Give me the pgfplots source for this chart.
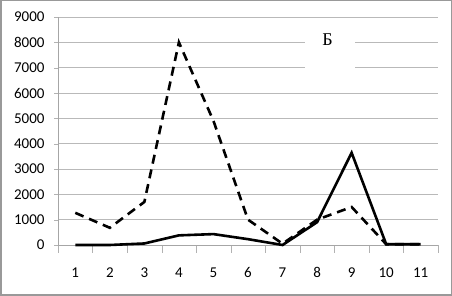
\documentclass[border=0pt]{standalone}
\usepackage{fontspec}
\setmainfont{Carlito}
\newfontfamily\serifb{Liberation Serif}
\usepackage{pgfplots}
\pgfplotsset{compat=1.18}
\begin{document}
\begin{tikzpicture}
\draw[gray!80, line width=1.5pt] (0.75pt,0.75pt) rectangle (451.25pt,295.25pt);
\begin{axis}[
  at={(58pt,51pt)}, anchor=south west,
  scale only axis, width=380pt, height=228pt,
  xmin=0.5, xmax=11.5, ymin=0, ymax=9000,
  axis x line*=bottom, axis y line*=left,
  axis line style={gray!70, -},
  xtick={1,...,11},
  minor xtick={0.5,1.5,...,11.5},
  ytick={0,1000,...,9000},
  major tick length=4pt,
  ytick style={draw=gray!60},
  xtick style={draw=none},
  minor x tick style={draw=gray!60},
  minor tick length=8pt,
  tick align=outside,
  ymajorgrids,
  grid style={gray!55, line width=0.8pt},
  /pgf/number format/assume math mode=true,
  /pgf/number format/1000 sep={},
  scaled y ticks=false,
  ticklabel style={font=\fontsize{15}{17}\selectfont},
  yticklabel style={xshift=-6pt},
  xticklabel style={yshift=-15pt},
  clip=false,
]
\addplot[black, line width=2.6pt, dash pattern=on 9pt off 6pt] coordinates {
(1,1270) (2,680) (3,1700) (4,8000) (5,4900) (6,1000) (7,50) (8,1000) (9,1500) (10,30) (11,30)};
\addplot[black, line width=2.6pt] coordinates {
(1,0) (2,0) (3,60) (4,380) (5,430) (6,230) (7,0) (8,900) (9,3640) (10,30) (11,30)};
\fill[white] (axis cs:7.66,8567) rectangle (axis cs:9.11,6672);
\node[font=\serifb\fontsize{18}{20}\selectfont] at (axis cs:8.30,8093) {Б};
\end{axis}
\end{tikzpicture}
\end{document}
